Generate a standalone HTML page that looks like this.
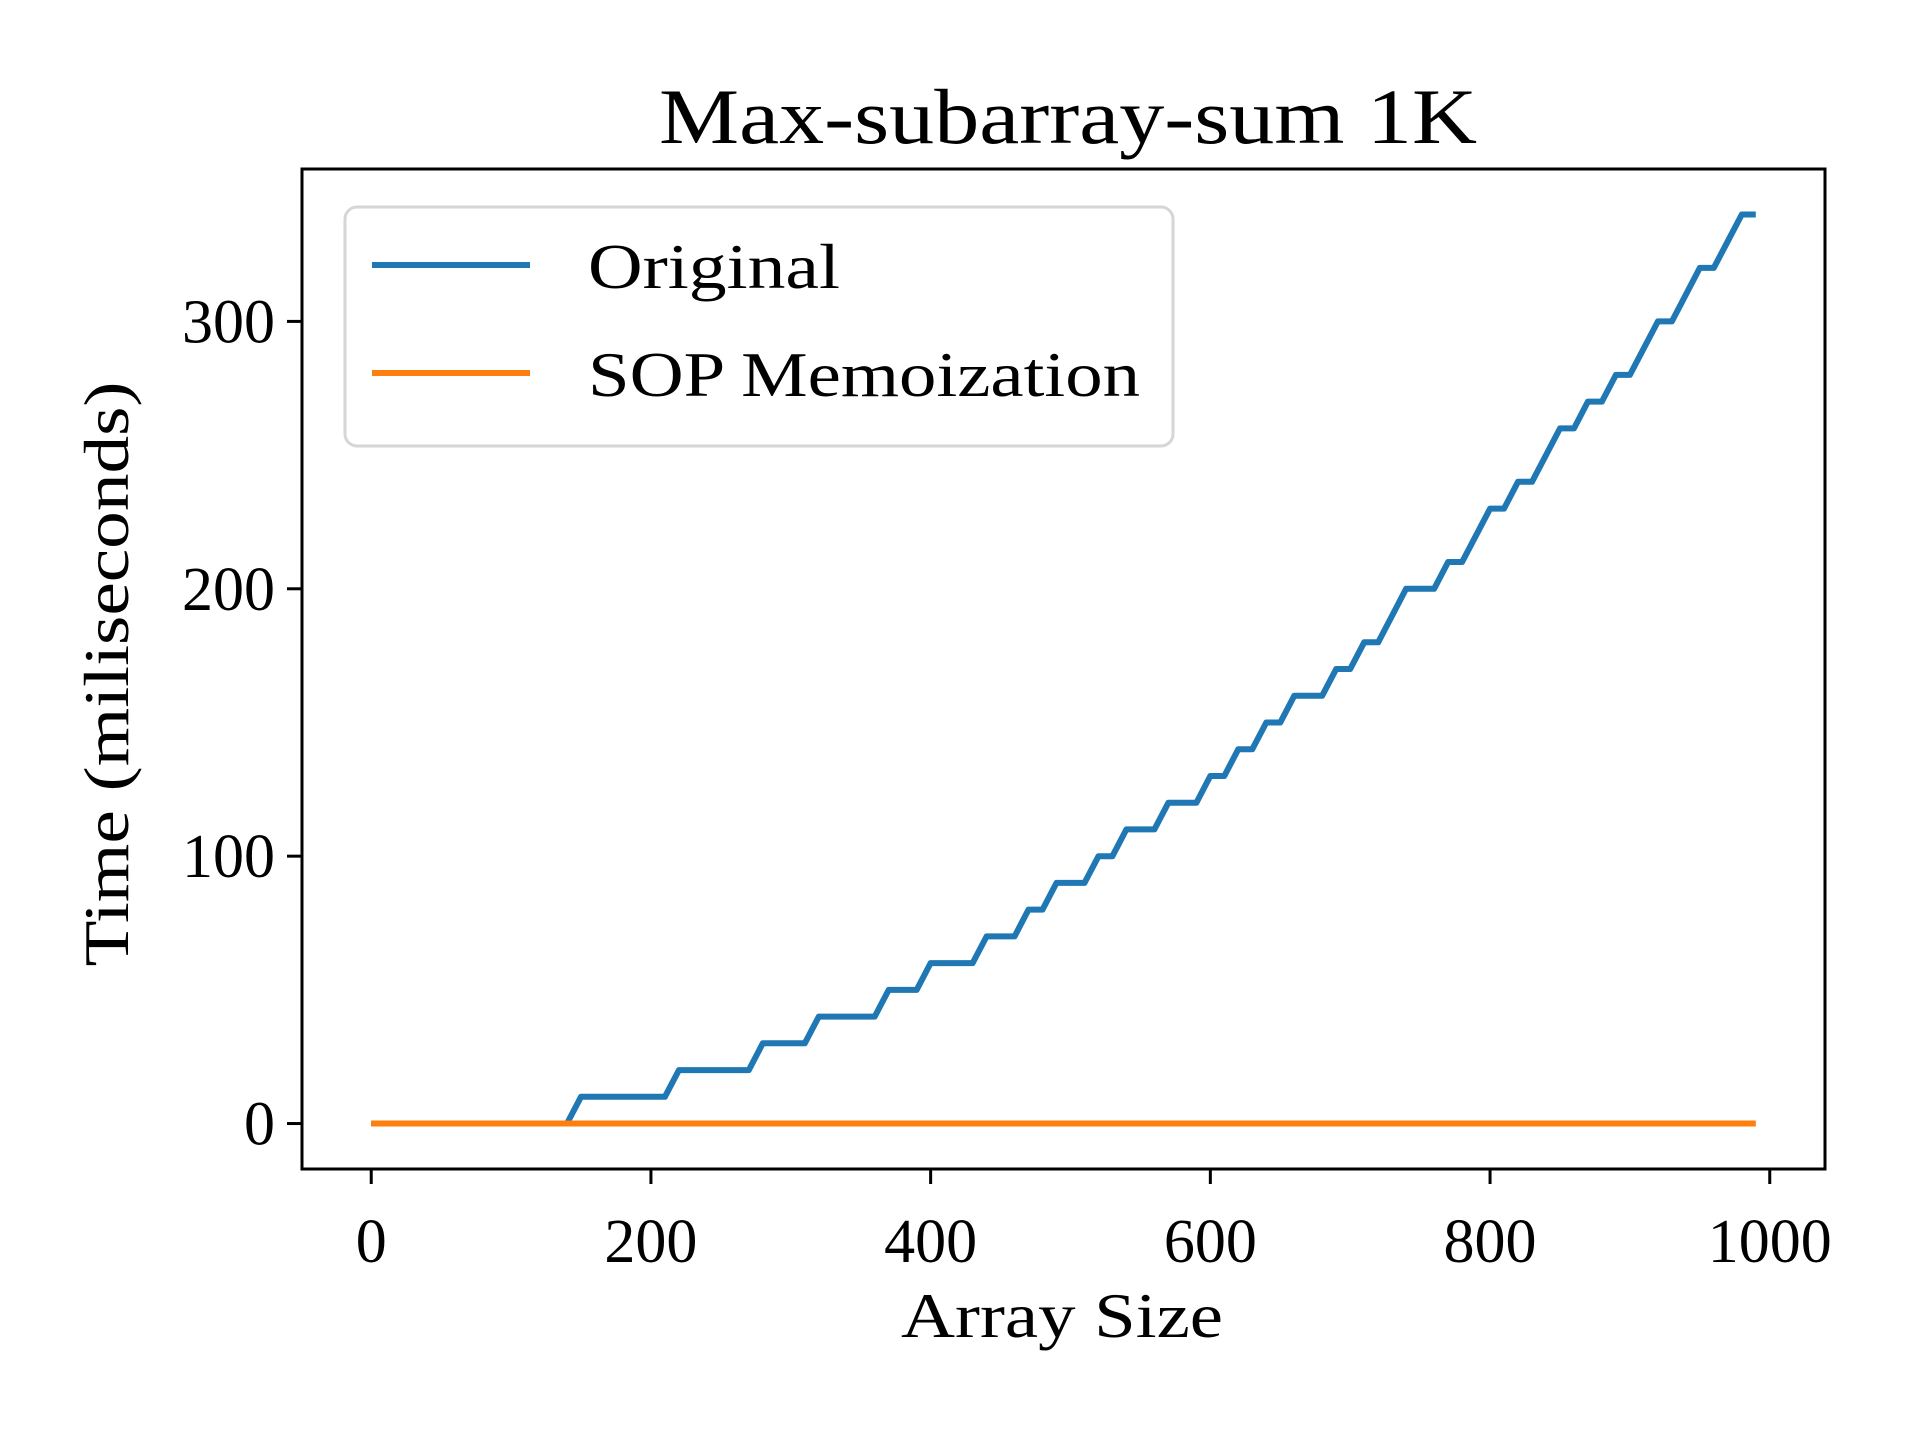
<!DOCTYPE html>
<html><head><meta charset="utf-8"><style>
html,body{margin:0;padding:0;background:#fff;}
svg{display:block;font-family:"Liberation Serif",serif;}
</style></head><body>
<svg id="chart" width="1920" height="1440" viewBox="0 0 1920 1440">
<text x="1068" y="143" font-size="78" text-anchor="middle" textLength="818" lengthAdjust="spacingAndGlyphs">Max-subarray-sum 1K</text>
<g id="plot"></g>
<rect x="302" y="169" width="1523" height="1000" fill="none" stroke="#000" stroke-width="3"/>
<text x="1062" y="1337" font-size="64" text-anchor="middle" textLength="322" lengthAdjust="spacingAndGlyphs">Array Size</text>
<text transform="translate(128,674) rotate(-90)" font-size="64" text-anchor="middle" textLength="585" lengthAdjust="spacingAndGlyphs">Time (miliseconds)</text>
<g>
<rect x="345" y="207" width="828" height="239" rx="12" fill="#fff" fill-opacity="0.8" stroke="#d6d6d6" stroke-width="3"/>
<line x1="372" y1="265" x2="530" y2="265" stroke="#1f77b4" stroke-width="6"/>
<text x="588" y="288" font-size="64" textLength="252" lengthAdjust="spacingAndGlyphs">Original</text>
<line x1="372" y1="373" x2="530" y2="373" stroke="#ff7f0e" stroke-width="6"/>
<text x="588" y="396" font-size="64" textLength="552" lengthAdjust="spacingAndGlyphs">SOP Memoization</text>
</g>
</svg>
<script>
const sizes = [];
for (let i = 0; i < 100; i++) sizes.push(i * 10);
const original = [0,0,0,0,0,0,0,0,0,0,0,0,0,0,0,10,10,10,10,10,10,10,20,20,20,20,20,20,30,30,30,30,40,40,40,40,40,50,50,50,60,60,60,60,70,70,70,80,80,90,90,90,100,100,110,110,110,120,120,120,130,130,140,140,150,150,160,160,160,170,170,180,180,190,200,200,200,210,210,220,230,230,240,240,250,260,260,270,270,280,280,290,300,300,310,320,320,330,340,340];
const sop = sizes.map(() => 0);
const xTicks = [0,200,400,600,800,1000];
const yTicks = [0,100,200,300];
const xMin = -49.5, xMax = 1039.5, yMin = -17, yMax = 357;
const L = 302, R = 1825, T = 169, B = 1169;
function sx(v){ return L + (v - xMin) / (xMax - xMin) * (R - L); }
function sy(v){ return B - (v - yMin) / (yMax - yMin) * (B - T); }
const NS = "http://www.w3.org/2000/svg";
const svg = document.getElementById('chart');
const plot = document.getElementById('plot');
function mk(tag, attrs){ const e = document.createElementNS(NS, tag); for (const k in attrs) e.setAttribute(k, attrs[k]); return e; }
xTicks.forEach(t => {
  const ln = mk('line', {x1: sx(t), x2: sx(t), y1: B, y2: B + 15, stroke: '#000', 'stroke-width': 3});
  
  
  svg.appendChild(ln);
  const tx = mk('text', {x: sx(t), y: 1262, 'font-size': 62, 'text-anchor': 'middle'});
  tx.textContent = t;
  
  
  svg.appendChild(tx);
});
yTicks.forEach(t => {
  const ln = mk('line', {x1: L - 15, x2: L, y1: sy(t), y2: sy(t), stroke: '#000', 'stroke-width': 3});
  
  
  svg.appendChild(ln);
  const tx = mk('text', {x: 275, y: sy(t) + 21, 'font-size': 62, 'text-anchor': 'end'});
  tx.textContent = t;
  
  
  svg.appendChild(tx);
});
function line(vals, color, name){
  const d = vals.map((v, i) => (i ? 'L' : 'M') + sx(sizes[i]).toFixed(1) + ' ' + sy(v).toFixed(1)).join(' ');
  const p = mk('path', {d: d, fill: 'none', stroke: color, 'stroke-width': 6, 'stroke-linejoin': 'round'});
  
  
  plot.appendChild(p);
}
line(original, '#1f77b4', 'original-line');
line(sop, '#ff7f0e', 'sop-memoization-line');
</script>
</body></html>
